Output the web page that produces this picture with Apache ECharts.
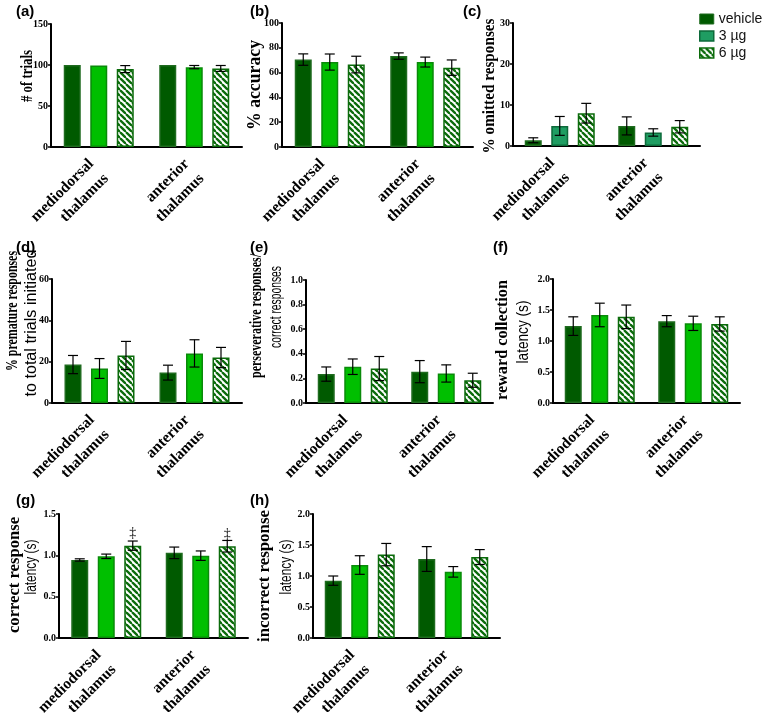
<!DOCTYPE html>
<html><head><meta charset="utf-8">
<script src="https://cdn.jsdelivr.net/npm/echarts@6/dist/echarts.min.js"></script>
<style>html,body{margin:0;padding:0;background:#fff}#c{width:764px;height:716px}</style>
</head><body><div id="c"></div>
<script>
// ---- data ----
const categories = ['mediodorsal\nthalamus', 'anterior\nthalamus'];
const groups = ['vehicle', '3 µg', '6 µg'];
// rows: vehicle, 3 µg, 6 µg ; columns: mediodorsal, anterior
const trialsMean = [[100, 100], [99.4, 97.4], [95, 95.8]];
const trialsSem = [[0, 0], [0, 2], [4.3, 3.6]];
const accuracyMean = [[70.5, 73.3], [68.5, 68.5], [66.5, 64]];
const accuracySem = [[4.6, 2.6], [6.5, 4], [6.7, 6.2]];
const omittedMean = [[1.4, 4.9], [4.9, 3.3], [8.0, 4.7]];
const omittedSem = [[0.6, 2.2], [2.3, 0.9], [2.4, 1.5]];
const prematureMean = [[18.6, 14.7], [16.7, 24], [23, 22]];
const prematureSem = [[4.4, 3.6], [4.8, 6.6], [6.8, 4.9]];
const persevMean = [[0.235, 0.255], [0.295, 0.24], [0.28, 0.185]];
const persevSem = [[0.058, 0.09], [0.063, 0.07], [0.098, 0.057]];
const rewardMean = [[1.24, 1.32], [1.42, 1.285], [1.39, 1.275]];
const rewardSem = [[0.15, 0.09], [0.19, 0.115], [0.19, 0.115]];
const correctMean = [[0.944, 1.03], [0.988, 0.996], [1.117, 1.11]];
const correctSem = [[0.014, 0.07], [0.027, 0.057], [0.056, 0.07]];
const incorrectMean = [[0.925, 1.274], [1.177, 1.067], [1.345, 1.306]];
const incorrectSem = [[0.075, 0.2], [0.15, 0.085], [0.18, 0.12]];
const correctSigMarks = ['‡', '‡']; // on 6 µg bars in (g)

// ---- styles ----
const DARK = '#005a00', BRIGHT = '#00bf00', TEAL = '#1f9d62', HATCH = '#0b6b0b';
const BAR_W = 17, GAP = 9.5, PITCH = BAR_W + GAP;
function hatchCanvas() {
  const s = 6, c = document.createElement('canvas'); c.width = s; c.height = s;
  const x = c.getContext('2d'); x.fillStyle = '#fff'; x.fillRect(0, 0, s, s);
  x.strokeStyle = HATCH; x.lineWidth = 2.3;
  for (const k of [-s, 0, s]) { x.beginPath(); x.moveTo(k, 0); x.lineTo(k + s, s); x.stroke(); }
  return c;
}
const hatchFill = { image: hatchCanvas(), repeat: 'repeat' };
const SERIF = '"Liberation Serif"', SANS = '"Liberation Sans"';
const measureCtx = document.createElement('canvas').getContext('2d');

// title line: [text, serif?, fontSize, centerX, centerY, length]
const panels = [
  { tag: '(a)', mean: trialsMean, sem: trialsSem, max: 150, interval: 50, dec: 0,
    title: [['# of trials', 1, 16, 28, 76, 52]], grid: [51, 24, 191, 123], lab: [16, 4], mid: BRIGHT },
  { tag: '(b)', mean: accuracyMean, sem: accuracySem, max: 100, interval: 20, dec: 0,
    title: [['% accuracy', 1, 18, 255, 85, 90]], grid: [282, 23, 191, 124], lab: [250, 4], mid: BRIGHT },
  { tag: '(c)', mean: omittedMean, sem: omittedSem, max: 30, interval: 10, dec: 0,
    title: [['% omitted responses', 1, 17, 490, 86, 135]], grid: [513, 23, 187, 123], lab: [463, 4], mid: TEAL },
  { tag: '(d)', mean: prematureMean, sem: prematureSem, max: 60, interval: 20, dec: 0,
    title: [['% premature responses', 1, 17, 12.5, 311, 120], ['to total trials initiated', 0, 16, 32, 323, 147]],
    grid: [52, 279, 190, 124], lab: [16, 240], mid: BRIGHT },
  { tag: '(e)', mean: persevMean, sem: persevSem, max: 1, interval: 0.2, dec: 1,
    title: [['perseverative responses/', 1, 17, 257, 316, 124], ['correct responses', 0, 16, 277, 307, 82]],
    grid: [306, 280, 187, 123], lab: [250, 240], mid: BRIGHT },
  { tag: '(f)', mean: rewardMean, sem: rewardSem, max: 2, interval: 0.5, dec: 1,
    title: [['reward collection', 1, 17, 503, 340, 120], ['latency (s)', 0, 16, 524, 332, 63]],
    grid: [553, 279, 187, 124], lab: [493, 240], mid: BRIGHT },
  { tag: '(g)', mean: correctMean, sem: correctSem, max: 1.5, interval: 0.5, dec: 1,
    title: [['correct response', 1, 17, 15, 575, 116], ['latency (s)', 0, 16, 32, 567, 55]],
    grid: [59, 514, 189, 124], lab: [16, 493], mid: BRIGHT, sig: correctSigMarks },
  { tag: '(h)', mean: incorrectMean, sem: incorrectSem, max: 2, interval: 0.5, dec: 1,
    title: [['incorrect response', 1, 17, 265, 576, 132], ['latency (s)', 0, 16, 287, 567, 55]],
    grid: [313, 514, 187, 124], lab: [250, 493], mid: BRIGHT }
];

const grid = [], xAxis = [], yAxis = [], series = [], graphic = [];
panels.forEach((p, i) => {
  grid.push({ left: p.grid[0], top: p.grid[1], width: p.grid[2], height: p.grid[3],
    containLabel: false, outerBoundsMode: 'none' });
  xAxis.push({
    type: 'category', gridIndex: i, data: categories,
    axisLine: { lineStyle: { color: '#000', width: 2 } },
    axisTick: { alignWithLabel: true, length: 4, lineStyle: { color: '#000', width: 1.5 } },
    axisLabel: { rotate: 45, interval: 0, margin: 22, padding: [44, 0, 0, 0], fontFamily: SERIF, fontWeight: 'bold',
      fontSize: 15.5, lineHeight: 21, color: '#000', hideOverlap: false }
  });
  yAxis.push({
    type: 'value', gridIndex: i, min: 0, max: p.max, interval: p.interval,
    axisLine: { show: true, lineStyle: { color: '#000', width: 2 } },
    axisTick: { show: true, length: 3, lineStyle: { color: '#000', width: 1.5 } },
    splitLine: { show: false },
    axisLabel: { margin: 3, fontFamily: SERIF, fontWeight: 'bold', fontSize: 10, color: '#000',
      formatter: v => v.toFixed(p.dec) }
  });
  const fills = [DARK, p.mid, hatchFill];
  const borders = ['#1f6b1f', p.mid === TEAL ? '#0d6a3a' : '#0a8a0a', HATCH];
  groups.forEach((g, k) => {
    const s = {
      type: 'bar', name: g, xAxisIndex: i, yAxisIndex: i, data: p.mean[k],
      barWidth: BAR_W, barGap: (GAP / BAR_W * 100) + '%',
      itemStyle: { color: fills[k], borderColor: borders[k], borderWidth: 1.5 },
      emphasis: { disabled: true }, z: 2
    };
    if (k === 2 && p.sig) {
      s.label = { show: true, position: 'top', distance: 5, fontSize: 14, fontFamily: SERIF, color: '#000',
        formatter: d => p.sig[d.dataIndex] };
    }
    series.push(s);
    series.push({
      type: 'custom', name: g, xAxisIndex: i, yAxisIndex: i, z: 5, silent: true,
      data: p.mean[k].map((m, c) => [c, m, p.sem[k][c]]),
      encode: { x: 0, y: 1 },
      renderItem: (params, api) => {
        const c = api.value(0), m = api.value(1), e = api.value(2);
        if (!e) return null;
        const hi = api.coord([c, m + e]), lo = api.coord([c, m - e]);
        const x = hi[0] + (k - 1) * PITCH, w = 5;
        const st = { stroke: '#000', lineWidth: 1.2 };
        return { type: 'group', children: [
          { type: 'line', shape: { x1: x, y1: hi[1], x2: x, y2: lo[1] }, style: st },
          { type: 'line', shape: { x1: x - w, y1: hi[1], x2: x + w, y2: hi[1] }, style: st },
          { type: 'line', shape: { x1: x - w, y1: lo[1], x2: x + w, y2: lo[1] }, style: st }
        ] };
      }
    });
  });
  graphic.push({ type: 'text', left: p.lab[0], top: p.lab[1],
    style: { text: p.tag, font: 'bold 15px "Liberation Sans"', fill: '#000' } });
  p.title.forEach(([t, serif, size, cx, cy, len]) => {
    const font = (serif ? 'bold ' : '') + size + 'px ' + (serif ? SERIF : SANS);
    measureCtx.font = font;
    const natural = measureCtx.measureText(t).width;
    graphic.push({ type: 'text', x: cx, y: cy, rotation: Math.PI / 2, scaleX: len / natural, scaleY: 1,
      style: { text: t, font, fill: '#000', align: 'center', verticalAlign: 'middle' } });
  });
});

const chart = echarts.init(document.getElementById('c'), null, { renderer: 'canvas' });
chart.setOption({
  animation: false,
  backgroundColor: '#fff',
  grid, xAxis, yAxis, series, graphic,
  legend: {
    orient: 'vertical', left: 699, top: 12, padding: 0, itemWidth: 14, itemHeight: 10, itemGap: 3,
    textStyle: { fontFamily: SANS, fontSize: 14, color: '#111' },
    data: [
      { name: 'vehicle', icon: 'rect', itemStyle: { color: DARK, borderColor: '#1f6b1f', borderWidth: 1 } },
      { name: '3 µg', icon: 'rect', itemStyle: { color: TEAL, borderColor: '#0d6a3a', borderWidth: 1.5 } },
      { name: '6 µg', icon: 'rect', itemStyle: { color: hatchFill, borderColor: HATCH, borderWidth: 1.5 } }
    ]
  }
});
</script></body></html>
